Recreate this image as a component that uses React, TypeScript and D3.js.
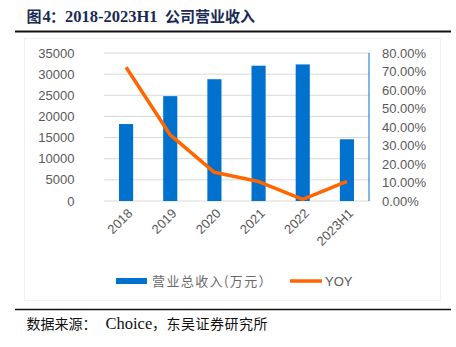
import React from "react";
import * as d3 from "d3";

const categories = ["2018", "2019", "2020", "2021", "2022", "2023H1"];
const revenue = [18200, 24800, 28800, 32000, 32300, 14600];
const yoy = [0.723, 0.357, 0.155, 0.105, 0.009, 0.106];
const leftTicks = [0, 5000, 10000, 15000, 20000, 25000, 30000, 35000];
const rightTicks = [0, 0.1, 0.2, 0.3, 0.4, 0.5, 0.6, 0.7, 0.8];

const W = 456;
const H = 347;
const plot = { left: 104, right: 369, top: 53, bottom: 201 };

export default function App() {
  const x = d3
    .scaleBand<string>()
    .domain(categories)
    .range([plot.left, plot.right])
    .paddingInner(0.68)
    .paddingOuter(0.34);
  const yL = d3.scaleLinear().domain([0, 35000]).range([plot.bottom, plot.top]);
  const yR = d3.scaleLinear().domain([0, 0.8]).range([plot.bottom, plot.top]);
  const line = d3
    .line<number>()
    .x((_, i) => (x(categories[i]) as number) + x.bandwidth() / 2)
    .y((d) => yR(d));

  const axisFont = "Liberation Sans, Arial, sans-serif";
  const serif = "Liberation Serif, 'Noto Sans CJK SC', serif";
  const cjk = "'Noto Sans CJK SC', sans-serif";
  const grey = "#595959";

  return (
    <svg width={W} height={H} style={{ position: "absolute", left: 0, top: 0 }}>
      <rect x={0} y={0} width={W} height={H} fill="#fff" />
      {/* title */}
      <text y={21.5} fontSize={16.5} fontWeight="bold" fill="#1a2a55" fontFamily={serif}>
        <tspan x={26.5} fontFamily={cjk} fontSize={15}>图</tspan>
        <tspan x={42.5}>4</tspan>
        <tspan x={50} fontFamily={cjk} fontSize={15}>：</tspan>
        <tspan x={65}>2018-2023H1</tspan>
        <tspan x={165} fontFamily={cjk} fontSize={15}>公司营业收入</tspan>
      </text>
      <line x1={15} x2={451} y1={31.5} y2={31.5} stroke="#111" strokeWidth={1.8} />
      {/* chart area border */}
      <rect x={24.5} y={38.5} width={416} height={262} fill="none" stroke="#f0f0f0" />
      {/* gridlines */}
      {leftTicks.map((t) => (
        <line
          key={t}
          x1={plot.left}
          x2={plot.right}
          y1={yL(t)}
          y2={yL(t)}
          stroke="#d9d9d9"
          strokeWidth={1}
        />
      ))}
      {/* bars */}
      {revenue.map((v, i) => (
        <rect
          key={categories[i]}
          x={x(categories[i])}
          y={yL(v)}
          width={x.bandwidth()}
          height={plot.bottom - yL(v)}
          fill="#0072CE"
        />
      ))}
      {/* right axis line */}
      <line x1={plot.right} x2={plot.right} y1={plot.top} y2={plot.bottom} stroke="#0072CE" strokeWidth={1} />
      {/* line */}
      <path d={line(yoy) || ""} fill="none" stroke="#FF6600" strokeWidth={3.5} strokeLinejoin="round" />
      {/* left ticks */}
      {leftTicks.map((t) => (
        <text
          key={t}
          x={74.5}
          y={yL(t)}
          dy="0.35em"
          textAnchor="end"
          fontSize={13}
          fill={grey}
          fontFamily={axisFont}
        >
          {t}
        </text>
      ))}
      {/* right ticks */}
      {rightTicks.map((t) => (
        <text
          key={t}
          x={382}
          y={yR(t)}
          dy="0.35em"
          textAnchor="start"
          fontSize={13}
          fill={grey}
          fontFamily={axisFont}
        >
          {(t * 100).toFixed(2) + "%"}
        </text>
      ))}
      {/* x labels */}
      {categories.map((c) => {
        const cx = (x(c) as number) + x.bandwidth() / 2 + 4;
        const cy = plot.bottom + 10;
        return (
          <text
            key={c}
            transform={`translate(${cx},${cy}) rotate(-45)`}
            textAnchor="end"
            dy="0.35em"
            fontSize={13}
            fill={grey}
            fontFamily={axisFont}
          >
            {c}
          </text>
        );
      })}
      {/* legend */}
      <rect x={116} y={278} width={31} height={6} fill="#0072CE" />
      <text x={152} y={281} dy="0.35em" fontSize={13} fill="#6a6a6a" fontFamily={cjk} letterSpacing={1.4}>
        营业总收入(万元）
      </text>
      <line x1={290} x2={322} y1={281} y2={281} stroke="#FF6600" strokeWidth={3.5} />
      <text x={325} y={281} dy="0.35em" fontSize={13} fill={grey} fontFamily={axisFont}>
        YOY
      </text>
      {/* bottom rule and source */}
      <line x1={15} x2={451} y1={309.5} y2={309.5} stroke="#111" strokeWidth={1.5} />
      <text y={328.5} fontSize={16.5} fill="#111" fontFamily={serif}>
        <tspan x={26.5} fontFamily={cjk} fontSize={14}>数据来源：</tspan>
        <tspan x={105.5}>Choice</tspan>
        <tspan x={152} fontFamily={cjk} fontSize={14}>，</tspan>
        <tspan x={166.5} fontFamily={cjk} fontSize={14} letterSpacing={0.5}>东吴证券研究所</tspan>
      </text>
    </svg>
  );
}
